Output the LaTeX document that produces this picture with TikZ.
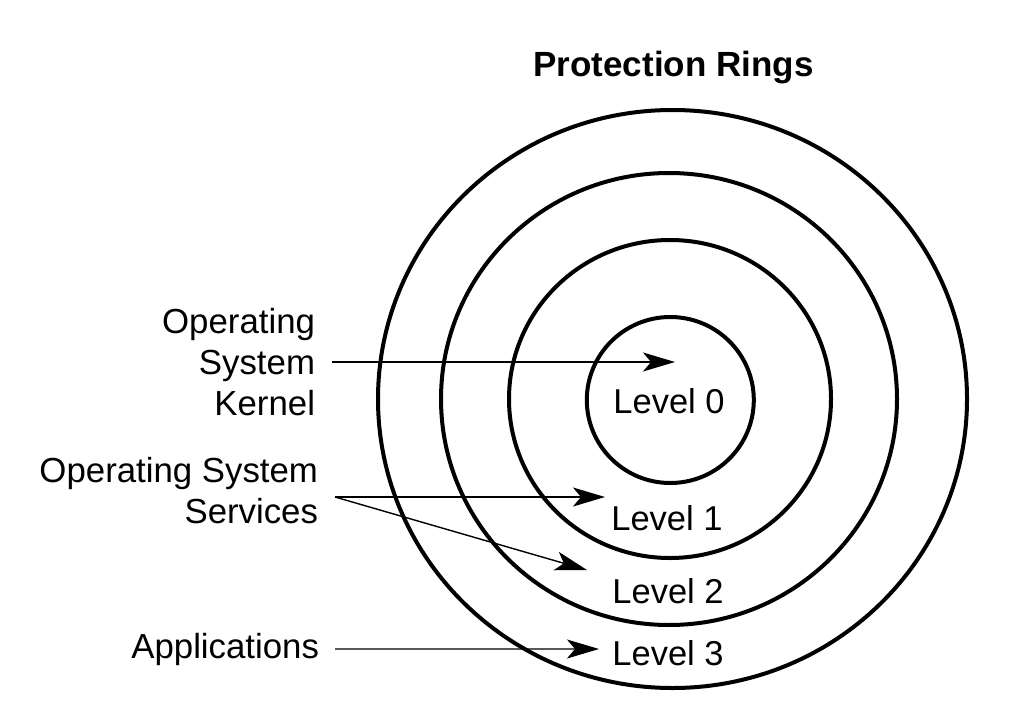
\documentclass[tikz,border=0pt]{standalone}
\usepackage{fontspec}
\setmainfont{Liberation Sans}
\usetikzlibrary{arrows.meta}
\begin{document}
\begin{tikzpicture}[x=1pt,y=-1pt,
  ring/.style={line width=4pt},
  lbl/.style={font=\fontsize{34.8}{41}\selectfont, inner sep=0pt},
  lvl/.style={font=\fontsize{34.5}{40}\selectfont, inner sep=0pt},
  ptr/.style={line width=1.4pt, -{Stealth[length=32pt,width=19pt,inset=8pt]}}]
\useasboundingbox (0,0) rectangle (1024,706);
\fill[white] (0,0) rectangle (1024,706);
% rings
\draw[ring] (672.5,399) ellipse [x radius=294.5pt, y radius=289pt];
\draw[ring] (669,399) ellipse [x radius=228pt, y radius=226pt];
\draw[ring] (670,399) ellipse [x radius=161pt, y radius=159pt];
\draw[ring] (670.3,400) ellipse [x radius=83.5pt, y radius=83pt];
% title
\node[font=\fontsize{35}{42}\selectfont\bfseries, inner sep=0pt, anchor=base] (title) at (673.5,77) {Protection Rings};
% level labels
\node[lvl, anchor=base] (l0) at (669,413) {Level 0};
\node[lvl, anchor=base] (l1) at (667,530) {Level 1};
\node[lvl, anchor=base] (l2) at (668,603) {Level 2};
\node[lvl, anchor=base] (l3) at (668,665) {Level 3};
% left labels
\node[lbl, align=right, anchor=east, outer xsep=17pt] (ker) at (332,362) {Operating\\System\\Kernel};
\node[lbl, align=right, anchor=east, outer xsep=17pt] (svc) at (335,491) {Operating System\\Services};
\node[lbl, anchor=base east, outer xsep=16pt] (app) at (335,658) {Applications};
% arrow tips
\coordinate (k0) at (675,362);
\coordinate (s1) at (605,497);
\coordinate (s2) at (587,570);
\coordinate (a3) at (599,649);
% arrows
\draw[ptr] (ker.east) -- (k0);
\draw[ptr] ([yshift=-6pt]svc.east) -- (s1);
\draw[ptr] ([yshift=-6pt]svc.east) -- (s2);
\draw[ptr] (app.east) -- (a3);
\end{tikzpicture}
\end{document}
